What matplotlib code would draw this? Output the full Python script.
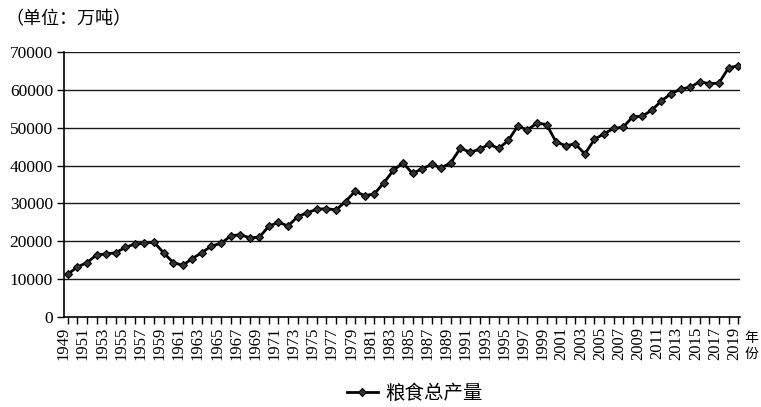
import matplotlib
matplotlib.use("Agg")
import matplotlib.pyplot as plt
import matplotlib.transforms as mtransforms
from matplotlib.ticker import FixedLocator

years = list(range(1949, 2020))
grain_output = [
    11318, 13213, 14369, 16392, 16683, 16952, 18394, 19275, 19505, 19765,
    16968, 14385, 13650, 15441, 17000, 18750, 19453, 21400, 21782, 20906,
    21097, 23996, 25014, 24048, 26494, 27527, 28452, 28631, 28273, 30477,
    33212, 32056, 32502, 35450, 38728, 40731, 37911, 39151, 40298, 39408,
    40755, 44624, 43529, 44266, 45649, 44510, 46662, 50454, 49417, 51230,
    50839, 46218, 45264, 45706, 43070, 46947, 48402, 49804, 50160, 52871,
    53082, 54648, 57121, 58958, 60194, 60703, 62144, 61625, 61791, 65789,
    66384,
]
label_years = years[::2]
y_ticks = [0, 10000, 20000, 30000, 40000, 50000, 60000, 70000]
series_name = "粮食总产量"
unit_text = "（单位：万吨）"
xaxis_text = "年\n份"

serif = "Liberation Serif"
cjk = ["Noto Sans CJK SC", "DejaVu Sans"]

fig = plt.figure(figsize=(7.61, 4.07), dpi=100)
ax = fig.add_axes([64/761, 1-317/407, (740-64)/761, (317-52)/407])

ax.plot(years, grain_output, color="black", lw=2.0, marker="D",
        markersize=4.2, markerfacecolor="#333333", markeredgecolor="black",
        markeredgewidth=0.8, label=series_name, zorder=3)

ax.set_xlim(1948.6, 2019.2)
ax.set_ylim(0, 70000)
ax.set_yticks(y_ticks)
ax.set_yticklabels([str(v) for v in y_ticks], fontfamily=serif, fontsize=12.5)
ax.set_xticks(label_years)
ax.set_xticklabels([str(y) for y in label_years], rotation=90,
                   fontfamily=serif, fontsize=12)
ax.xaxis.set_minor_locator(FixedLocator(years))
ax.tick_params(axis="x", which="both", direction="out", length=5, width=1,
               color="black", pad=2)
ax.tick_params(axis="y", direction="out", length=5, width=1, pad=3)

shift = mtransforms.ScaledTranslation(-4/100, 0, fig.dpi_scale_trans)
for lbl in ax.get_xticklabels():
    lbl.set_transform(lbl.get_transform() + shift)

for v in y_ticks[1:]:
    ax.axhline(v, color="#1a1a1a", lw=1.0, zorder=1)

for s in ["top", "right"]:
    ax.spines[s].set_visible(False)
ax.spines["left"].set_linewidth(1.2)
ax.spines["bottom"].set_linewidth(1.2)

fig.text(5/761, 1-19/407, unit_text, family=cjk, fontsize=13,
         fontweight="medium", ha="left", va="center")
fig.text(751/761, 1-346/407, xaxis_text, family=cjk, fontsize=10,
         ha="center", va="center", linespacing=1.1)

leg = fig.legend(loc="center", bbox_to_anchor=(415/761, 1-393/407),
                 frameon=False, prop={"family": cjk, "size": 14},
                 handlelength=1.6, handletextpad=0.4)

fig.savefig("out.png", dpi=100)
